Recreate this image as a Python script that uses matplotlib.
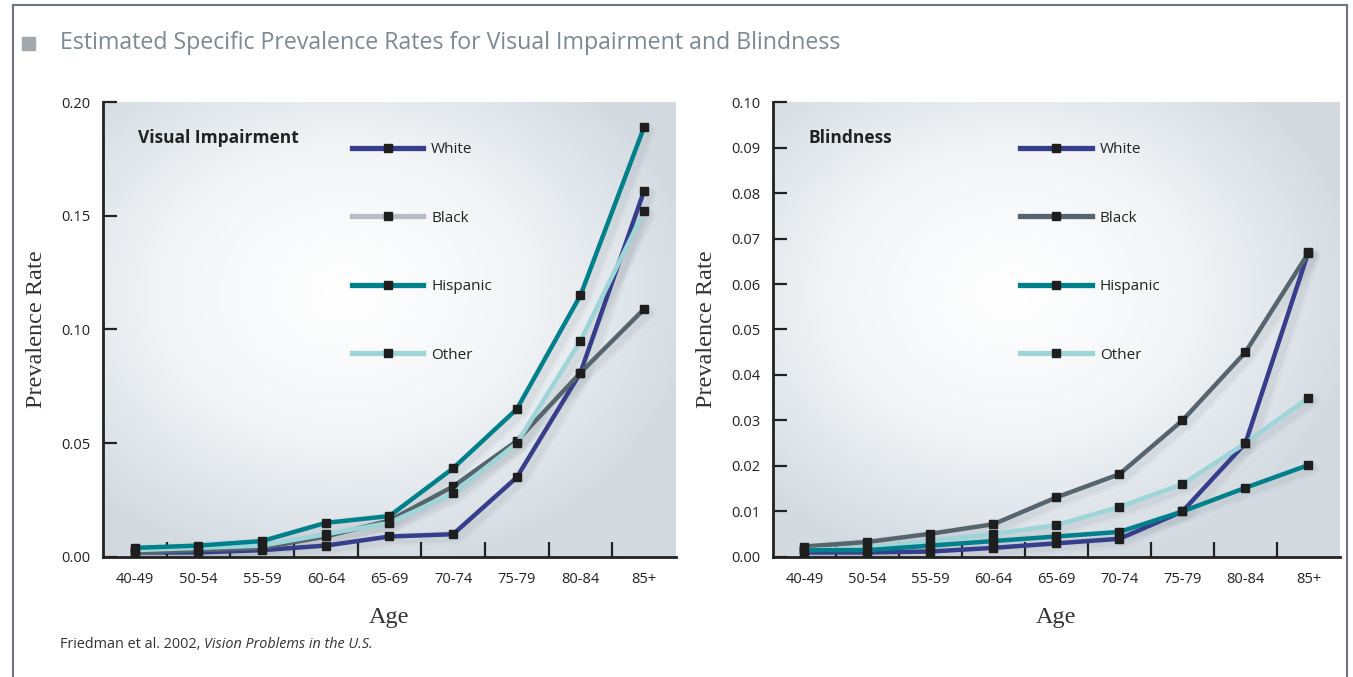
import numpy as np
import matplotlib
matplotlib.use('Agg')
from matplotlib import pyplot as plt
from matplotlib.lines import Line2D
from matplotlib.colors import LinearSegmentedColormap

# Data
ages = ['40-49', '50-54', '55-59', '60-64', '65-69', '70-74', '75-79', '80-84', '85+']
groups = ['White', 'Black', 'Hispanic', 'Other']

vi_white = [0.002, 0.002, 0.003, 0.005, 0.009, 0.010, 0.035, 0.081, 0.161]
vi_black = [0.002, 0.003, 0.004, 0.009, 0.016, 0.031, 0.051, 0.081, 0.109]
vi_hispanic = [0.004, 0.005, 0.007, 0.015, 0.018, 0.039, 0.065, 0.115, 0.189]
vi_other = [0.003, 0.004, 0.005, 0.010, 0.015, 0.028, 0.050, 0.095, 0.152]

bl_white = [0.001, 0.001, 0.0012, 0.002, 0.003, 0.004, 0.010, 0.025, 0.067]
bl_black = [0.0023, 0.0033, 0.0051, 0.0072, 0.0131, 0.0182, 0.030, 0.045, 0.0668]
bl_hispanic = [0.0015, 0.0015, 0.0025, 0.0035, 0.0045, 0.0055, 0.010, 0.0152, 0.0202]
bl_other = [0.0015, 0.002, 0.0035, 0.005, 0.007, 0.011, 0.016, 0.025, 0.035]

c_white = '#363d8a'
c_black_line = '#55646d'
c_black_vi_legend = '#b9bdc3'
c_hisp = '#00808b'
c_other = '#9dd5d8'

sans = ['Open Sans', 'DejaVu Sans']
serif = ['Liberation Serif', 'DejaVu Serif']

fig = plt.figure(figsize=(13.53, 6.77), dpi=100)
fig.patch.set_facecolor('white')

bg_cmap = LinearSegmentedColormap.from_list('bg', ['#ffffff', '#f3f5f7', '#d3dbe1'])


def panel(ax, series, colors, legend_colors, ymax, step, name, leg_x):
    x = np.arange(len(ages))
    # radial gradient background
    gx, gy = np.meshgrid(np.linspace(0, 1, 300), np.linspace(0, 1, 300))
    r = np.sqrt(((gx - 0.42) / 0.62) ** 2 + ((gy - 0.58) / 0.62) ** 2)
    ax.imshow(np.clip(r, 0, 1), cmap=bg_cmap, extent=[0, 1, 0, 1],
              transform=ax.transAxes, aspect='auto', zorder=0, origin='lower')
    # soft shadows under the lines
    for vals in series:
        for lw, a in [(10, 0.06), (6, 0.10)]:
            ax.plot(x + 0.08, np.array(vals) - ymax * 0.007, color='#7d8a94', lw=lw,
                    alpha=a, solid_capstyle='round', solid_joinstyle='round', zorder=1)
    for vals, col in zip(series, colors):
        ax.plot(x, vals, color=col, lw=3.2, marker='s', markersize=6,
                markerfacecolor='#1e1e1e', markeredgecolor='#1e1e1e',
                solid_joinstyle='round', zorder=3)
    ax.set_xlim(-0.5, 8.5)
    ax.set_ylim(0, ymax)
    yt = np.arange(0, ymax + step / 2, step)
    ax.set_yticks(yt)
    ax.set_yticklabels(['%.2f' % v for v in yt], family=sans, fontsize=10.5, color='#222222')
    ax.set_xticks(x)
    ax.set_xticklabels(ages, family=sans, fontsize=10.5, color='#222222')
    ax.set_xticks(x[:-1] + 0.5, minor=True)
    ax.tick_params(axis='x', which='major', length=0, pad=11)
    ax.tick_params(axis='x', which='minor', direction='in', length=11, width=1.6, color='#222222')
    ax.tick_params(axis='y', direction='in', length=10, width=1.6, color='#222222', pad=9)
    for s in ['top', 'right']:
        ax.spines[s].set_visible(False)
    for s in ['left', 'bottom']:
        ax.spines[s].set_linewidth(2)
        ax.spines[s].set_color('#222222')
    ax.set_ylabel('Prevalence Rate', family=serif, fontsize=17.5, color='#333333', labelpad=10)
    ax.set_xlabel('Age', family=serif, fontsize=17.5, color='#333333', labelpad=14)
    ax.text(0.062, 0.922, name, transform=ax.transAxes, family=sans, fontsize=12.5,
            fontweight='bold', color='#222222', va='center', ha='left')
    handles = [Line2D([], [], color=c, lw=3.8, marker='s', markersize=6,
                      markerfacecolor='#1e1e1e', markeredgecolor='#1e1e1e')
               for c in legend_colors]
    leg = ax.legend(handles, groups, loc='upper left', bbox_to_anchor=(leg_x, 0.942),
                    frameon=False, handlelength=4.7, handletextpad=0.5,
                    labelspacing=3.5, prop={'family': sans, 'size': 11})
    for t in leg.get_texts():
        t.set_color('#222222')


ax1 = fig.add_axes([0.0761, 0.1773, 0.4235, 0.672])
panel(ax1, [vi_white, vi_black, vi_other, vi_hispanic],
      [c_white, c_black_line, c_other, c_hisp],
      [c_white, c_black_vi_legend, c_hisp, c_other],
      0.20, 0.05, 'Visual Impairment', 0.41)

ax2 = fig.add_axes([0.5713, 0.1773, 0.4190, 0.672])
panel(ax2, [bl_white, bl_black, bl_other, bl_hispanic],
      [c_white, c_black_line, c_other, c_hisp],
      [c_white, c_black_line, c_hisp, c_other],
      0.10, 0.01, 'Blindness', 0.412)

# title block
fig.patches.append(plt.Rectangle((22 / 1353, 1 - 50 / 677), 13 / 1353, 13 / 677,
                                 transform=fig.transFigure, color='#a3a8ad', zorder=5))
fig.text(60 / 1353, 1 - 43 / 677, 'Estimated Specific Prevalence Rates for Visual Impairment and Blindness',
         family=sans, fontsize=16.7, color='#7b8992', va='center', ha='left')

# frame
for xs, ys in [((13, 1347), (5, 5)), ((13, 13), (5, 677)), ((1347, 1347), (5, 677))]:
    fig.add_artist(Line2D([x / 1353 for x in xs], [1 - y / 677 for y in ys],
                          transform=fig.transFigure, color='#6b7780', lw=1.5))

# source note
t1 = fig.text(60 / 1353, 1 - 645 / 677, 'Friedman et al. 2002, ', family=sans, fontsize=10.4,
              color='#333333', va='center', ha='left')
fig.canvas.draw()
bb = t1.get_window_extent(renderer=fig.canvas.get_renderer())
fig.text(bb.x1 / fig.bbox.width, 1 - 645 / 677, 'Vision Problems in the U.S.', family=sans,
         fontsize=10.4, style='italic', color='#333333', va='center', ha='left')

fig.savefig('out.png', dpi=100)
